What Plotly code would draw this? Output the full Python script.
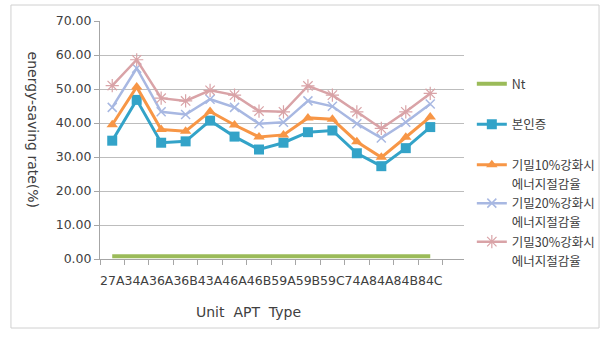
import plotly.graph_objects as go

# Unit types (x categories)
unit_types = ["27A", "34A", "36A", "36B", "43A", "46A", "46B",
              "59A", "59B", "59C", "74A", "84A", "84B", "84C"]

# Energy-saving rate (%) per series
nt = [0.8] * 14
certified = [34.8, 46.8, 34.2, 34.6, 40.7, 36.0, 32.2, 34.2, 37.3, 37.8, 31.1, 27.3, 32.6, 38.8]
tight10 = [39.5, 50.6, 38.1, 37.6, 43.4, 39.4, 35.9, 36.5, 41.5, 41.1, 34.5, 29.9, 35.8, 41.8]
tight20 = [44.6, 56.1, 43.3, 42.5, 47.0, 44.6, 39.8, 40.2, 46.5, 44.9, 39.8, 35.6, 40.2, 45.6]
tight30 = [51.0, 58.6, 47.3, 46.5, 49.6, 48.2, 43.5, 43.3, 50.9, 48.2, 43.3, 38.4, 43.3, 48.7]

series_names = ["Nt<br> ", "본인증<br> ", "기밀10%강화시", "기밀20%강화시", "기밀30%강화시"]
name_suffix = "에너지절감율"   # second legend line of the airtightness series
y_ticks = [0, 10, 20, 30, 40, 50, 60, 70]

GRID = "#BDBDBD"
AXIS = "#A6A6A6"
TEXT = "#404040"
FONT = "DejaVu Sans"

fig = go.Figure()


def legend_line2(group):
    # legend-only row carrying the second line of a two-line series name
    fig.add_trace(go.Scatter(x=[None], y=[None], name=name_suffix, mode="lines",
                             line=dict(width=0, color="rgba(0,0,0,0)"),
                             legendgroup=group, hoverinfo="skip"))


fig.add_trace(go.Scatter(x=unit_types, y=nt, name=series_names[0], mode="lines",
                         line=dict(color="#9BBB59", width=4), legendgroup="a"))
fig.add_trace(go.Scatter(x=unit_types, y=certified, name=series_names[1], mode="lines+markers",
                         line=dict(color="#33A3C8", width=3),
                         marker=dict(symbol="square", size=10, color="#33A3C8"),
                         legendgroup="b"))
fig.add_trace(go.Scatter(x=unit_types, y=tight10, name=series_names[2], mode="lines+markers",
                         line=dict(color="#F79646", width=3),
                         marker=dict(symbol="triangle-up", size=10, color="#F79646"),
                         legendgroup="c"))
legend_line2("c")
fig.add_trace(go.Scatter(x=unit_types, y=tight20, name=series_names[3], mode="lines+markers",
                         line=dict(color="#A8B8E2", width=2.5),
                         marker=dict(symbol="x-thin-open", size=9,
                                     line=dict(color="#A8B8E2", width=1.5)),
                         legendgroup="c"))
legend_line2("c")
fig.add_trace(go.Scatter(x=unit_types, y=tight30, name=series_names[4], mode="lines+markers",
                         line=dict(color="#D9A3A7", width=2.5),
                         marker=dict(symbol="asterisk-open", size=11,
                                     line=dict(color="#D9A3A7", width=1.2)),
                         legendgroup="c"))
legend_line2("c")

L, R, T, B = 100, 140, 21, 79
W, H = 612, 338
pw, ph = W - L - R, H - T - B


def px_x(p):
    return (p - L) / pw


def px_y(p):
    return (H - B - p) / ph


fig.update_layout(
    width=W, height=H,
    margin=dict(l=L, r=R, t=T, b=B),
    paper_bgcolor="white", plot_bgcolor="white",
    font=dict(family=FONT, size=12.5, color=TEXT),
    showlegend=True,
    legend=dict(x=px_x(480), xanchor="left", y=px_y(69), yanchor="top",
                valign="top", tracegroupgap=5, bgcolor="rgba(0,0,0,0)",
                font=dict(family="Noto Sans CJK KR", size=12.5, color=TEXT)),
    xaxis=dict(type="category", categoryorder="array", categoryarray=unit_types,
               range=[-0.5, 14.38], tickangle=0,
               ticks="outside", tickson="boundaries", ticklen=5, tickcolor=AXIS,
               showgrid=False, zeroline=False,
               showline=True, linecolor=AXIS, linewidth=1, ticklabelstandoff=10,
               tickfont=dict(family=FONT, size=12.5, color=TEXT)),
    yaxis=dict(range=[0, 70], tickmode="array", tickvals=y_ticks,
               ticktext=[f"{v:.2f}" for v in y_ticks],
               ticks="outside", ticklen=5, tickcolor=AXIS,
               showgrid=True, gridcolor=GRID, gridwidth=1, zeroline=False,
               showline=True, linecolor=AXIS, linewidth=1,
               tickfont=dict(family=FONT, size=12.5, color=TEXT)),
    shapes=[dict(type="rect", xref="paper", yref="paper",
                 x0=px_x(9), x1=px_x(610), y0=px_y(328), y1=px_y(5),
                 line=dict(color="#D0D0D0", width=1), layer="below")],
    annotations=[
        dict(text="energy-saving rate(%)", xref="paper", yref="paper",
             x=px_x(32), y=px_y(130), textangle=90, showarrow=False,
             xanchor="center", yanchor="middle",
             font=dict(family=FONT, size=14, color=TEXT)),
        dict(text="Unit  APT  Type", xref="paper", yref="paper",
             x=px_x(252), y=px_y(312), showarrow=False,
             xanchor="center", yanchor="middle",
             font=dict(family=FONT, size=14, color=TEXT)),
    ],
)

fig.write_html("out.html")
